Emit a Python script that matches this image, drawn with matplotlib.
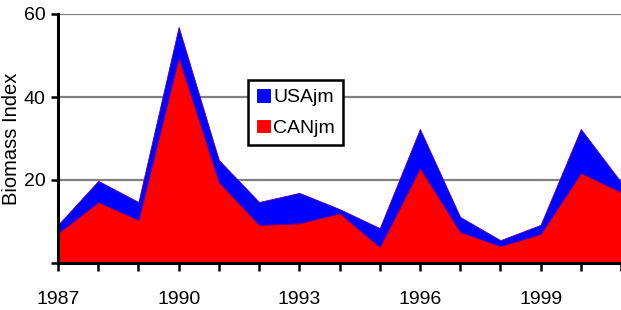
import matplotlib.pyplot as plt
from matplotlib.patches import Patch

# biomass index
years = [1987, 1988, 1989, 1990, 1991, 1992, 1993, 1994, 1995, 1996, 1997, 1998, 1999, 2000, 2001]
can_jm = [7.2, 14.7, 10.4, 49.6, 19.5, 9.2, 9.6, 12.0, 3.9, 22.9, 7.5, 4.1, 7.0, 21.7, 17.1]
usa_jm = [2.0, 5.1, 4.3, 7.3, 5.3, 5.5, 7.3, 1.0, 4.5, 9.4, 3.6, 1.4, 2.2, 10.6, 2.4]
label_years = [1987, 1990, 1993, 1996, 1999]

plt.rcParams['font.family'] = ['Liberation Sans', 'DejaVu Sans']

W, H = 621, 310
fig = plt.figure(figsize=(W / 100, H / 100), dpi=100)
ax = fig.add_axes([58 / W, (H - 263) / H, (W - 58) / W, (263 - 14) / H])

ax.stackplot(years, can_jm, usa_jm, colors=['#ff0000', '#0000ff'],
             edgecolor='#5a00a0', linewidth=0.6, zorder=2)

ax.set_xlim(1987, 2001)
ax.set_ylim(0, 60)
ax.set_yticks([0, 20, 40, 60])
ax.set_yticklabels(['', '20', '40', '60'])
ax.set_xticks(years)
ax.set_xticklabels([str(y) if y in label_years else '' for y in years])

for v in [20, 40, 60]:
    ax.axhline(v, color='#808080', lw=1.6, zorder=1)

for s in ['top', 'right']:
    ax.spines[s].set_visible(False)
for s in ['left', 'bottom']:
    ax.spines[s].set_linewidth(2.2)
    ax.spines[s].set_zorder(3)

ax.tick_params(axis='x', length=6, width=1.8, pad=14, labelsize=14)
ax.tick_params(axis='y', length=5, width=1.8, pad=4, labelsize=14)
ax.set_ylabel('Biomass Index', fontsize=14.5)
ax.yaxis.set_label_coords(-37 / (W - 58), 0.5)

handles = [Patch(facecolor='#0000ff', edgecolor='white', lw=0.8, label='USAjm'),
           Patch(facecolor='#ff0000', edgecolor='white', lw=0.8, label='CANjm')]
leg = ax.legend(handles=handles, loc='upper left',
                bbox_to_anchor=((248 - 58) / (W - 58), (263 - 80) / (263 - 14)),
                fontsize=14, frameon=True, fancybox=False, framealpha=1,
                handlelength=0.8, handleheight=0.8, handletextpad=0.1,
                borderpad=0.4, labelspacing=0.65, borderaxespad=0)
leg.get_frame().set_edgecolor('black')
leg.get_frame().set_linewidth(1.8)

fig.savefig('out.png', dpi=100)
